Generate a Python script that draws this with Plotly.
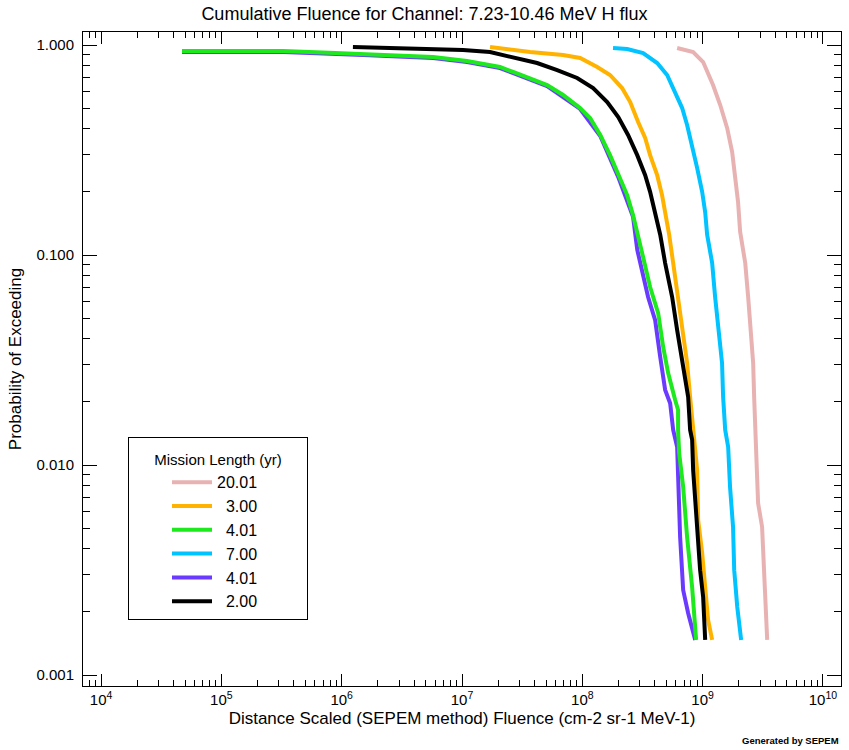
import plotly.graph_objects as go

# ---- data ----
pink_x = [6.14e8, 8.34e8, 1.01e9, 1.22e9, 1.40e9, 1.60e9, 1.76e9, 1.86e9, 1.97e9, 2.05e9,
          2.26e9, 2.39e9, 2.53e9, 2.63e9, 2.68e9, 2.73e9, 2.84e9, 2.89e9, 3.12e9, 3.18e9,
          3.25e9, 3.37e9, 3.44e9]
pink_y = [0.968, 0.926, 0.830, 0.645, 0.518, 0.402, 0.309, 0.240, 0.179, 0.129,
          0.0916, 0.0631, 0.0439, 0.0306, 0.0211, 0.0147, 0.00947, 0.00659, 0.00507, 0.00381,
          0.00262, 0.00183, 0.00147]

orange_x = [1.71e7, 3.68e7, 6.92e7, 9.59e7, 1.33e8, 1.70e8, 2.14e8, 2.50e8, 2.91e8, 3.33e8,
            3.66e8, 4.19e8, 4.60e8, 4.97e8, 5.27e8, 5.69e8, 6.25e8, 6.89e8, 7.43e8, 7.87e8,
            8.34e8, 9.00e8, 9.18e8, 9.91e8, 1.05e9, 1.11e9, 1.20e9]
orange_y = [0.978, 0.926, 0.896, 0.867, 0.786, 0.720, 0.624, 0.535, 0.430, 0.361,
            0.299, 0.240, 0.193, 0.155, 0.125, 0.0916, 0.0631, 0.0439, 0.0306, 0.0211,
            0.0152, 0.00947, 0.00547, 0.00381, 0.00262, 0.00183, 0.00147]

green_x = [4.71e4, 3.26e5, 8.81e5, 1.51e6, 3.24e6, 5.75e6, 1.10e7, 2.07e7, 2.66e7, 5.10e7,
           6.92e7, 9.59e7, 1.16e8, 1.41e8, 1.70e8, 1.99e8, 2.36e8, 2.64e8, 2.91e8, 3.20e8,
           3.66e8, 4.27e8, 4.70e8, 5.17e8, 5.91e8, 6.25e8, 6.25e8, 6.38e8, 6.89e8, 7.43e8,
           8.18e8, 8.83e8]
green_y = [0.936, 0.936, 0.916, 0.906, 0.896, 0.877, 0.839, 0.786, 0.744, 0.645,
           0.578, 0.501, 0.449, 0.373, 0.299, 0.240, 0.193, 0.155, 0.125, 0.0978,
           0.0704, 0.0529, 0.0365, 0.0274, 0.0204, 0.0183, 0.0147, 0.0114, 0.00786, 0.00454,
           0.00262, 0.00147]

cyan_x = [1.80e8, 2.36e8, 3.20e8, 4.19e8, 5.07e8, 5.91e8, 6.76e8, 7.43e8, 8.18e8, 9.00e8,
          9.91e8, 1.05e9, 1.09e9, 1.20e9, 1.27e9, 1.35e9, 1.45e9, 1.48e9, 1.54e9, 1.63e9,
          1.69e9, 1.79e9, 1.83e9, 1.94e9, 2.09e9]
cyan_y = [0.968, 0.957, 0.916, 0.821, 0.720, 0.597, 0.501, 0.416, 0.334, 0.260,
          0.200, 0.160, 0.125, 0.0916, 0.0631, 0.0439, 0.0306, 0.0211, 0.0147, 0.0122,
          0.00786, 0.00507, 0.00316, 0.00211, 0.00147]

purple_x = [4.71e4, 3.26e5, 1.51e6, 5.75e6, 1.10e7, 2.07e7, 5.10e7, 9.59e7, 1.41e8, 1.99e8,
            2.64e8, 2.86e8, 3.52e8, 4.03e8, 4.44e8, 4.88e8, 5.37e8, 5.69e8, 6.14e8, 6.25e8,
            6.50e8, 6.89e8, 7.58e8, 8.67e8]
purple_y = [0.926, 0.926, 0.896, 0.867, 0.830, 0.777, 0.638, 0.496, 0.369, 0.235,
            0.152, 0.106, 0.0631, 0.0490, 0.0327, 0.0228, 0.0197, 0.0147, 0.0122, 0.00786,
            0.00454, 0.00254, 0.00197, 0.00147]

black_x = [1.24e6, 2.89e6, 1.02e7, 1.71e7, 2.66e7, 4.21e7, 6.18e7, 9.06e7, 1.23e8, 1.61e8,
           1.99e8, 2.40e8, 2.86e8, 3.33e8, 3.66e8, 4.03e8, 4.44e8, 4.88e8, 5.58e8, 6.14e8,
           6.76e8, 7.16e8, 7.58e8, 7.87e8, 8.18e8, 8.34e8, 8.67e8, 9.00e8, 9.53e8, 1.01e9,
           1.05e9]
black_y = [0.978, 0.968, 0.947, 0.926, 0.877, 0.821, 0.760, 0.697, 0.624, 0.535,
           0.454, 0.373, 0.299, 0.240, 0.200, 0.160, 0.125, 0.0916, 0.0631, 0.0439,
           0.0306, 0.0254, 0.0211, 0.0147, 0.0132, 0.00947, 0.00659, 0.00454, 0.00316, 0.00235,
           0.00147]

series_names = ["20.01", "3.00", "4.01", "7.00", "4.01", "2.00"]

x_tickvals = [1e4, 1e5, 1e6, 1e7, 1e8, 1e9, 1e10]
x_ticktext = ["10<sup>4</sup>", "10<sup>5</sup>", "10<sup>6</sup>", "10<sup>7</sup>",
              "10<sup>8</sup>", "10<sup>9</sup>", "10<sup>10</sup>"]
y_tickvals = [0.001, 0.01, 0.1, 1.0]
y_ticktext = ["0.001", "0.010", "0.100", "1.000"]

x_minor = [m * 10 ** e for e in range(3, 10) for m in range(2, 10)]
y_minor = [m * 10 ** e for e in range(-3, 0) for m in range(2, 10)]

FONT = "Liberation Sans"
FS = "\u2007"


def pad(name):
    return FS * (5 - len(name)) + name + FS * 5


fig = go.Figure()
traces = [
    (pink_x, pink_y, series_names[0], "#E8B2B2", 1),
    (orange_x, orange_y, series_names[1], "#FFB300", 2),
    (cyan_x, cyan_y, series_names[3], "#00C3FF", 4),
    (purple_x, purple_y, series_names[4], "#6A3BFF", 5),
    (green_x, green_y, series_names[2], "#1EE81E", 3),
    (black_x, black_y, series_names[5], "#000000", 6),
]
for xs, ys, nm, col, rank in traces:
    fig.add_trace(go.Scatter(x=xs, y=ys, mode="lines", name=pad(nm), legendrank=rank,
                             line=dict(color=col, width=4)))

axis_common = dict(showline=True, linecolor="black", linewidth=1, mirror="ticks",
                   ticks="inside", tickcolor="black", showgrid=False, zeroline=False,
                   tickfont=dict(family=FONT, size=15, color="black"))

fig.update_layout(
    width=849, height=750,
    margin=dict(l=83, r=8, t=32, b=64),
    paper_bgcolor="white", plot_bgcolor="white",
    title=dict(text="Cumulative Fluence for Channel: 7.23-10.46 MeV H flux",
               x=0.5, xref="container", xanchor="center",
               y=1 - 14 / 750, yref="container", yanchor="middle",
               font=dict(family=FONT, size=18, color="black")),
    xaxis=dict(type="log", range=[3.85, 10.15], tickvals=x_tickvals, ticktext=x_ticktext,
               ticklen=12,
               minor=dict(tickvals=x_minor, ticks="inside", ticklen=6, tickcolor="black"),
               title=dict(text="Distance Scaled (SEPEM method) Fluence (cm-2 sr-1 MeV-1)",
                          font=dict(family=FONT, size=17, color="black"), standoff=5),
               **axis_common),
    yaxis=dict(type="log", range=[-3.052, 0.062], tickvals=y_tickvals, ticktext=y_ticktext,
               ticklen=14, ticklabelstandoff=5,
               minor=dict(tickvals=y_minor, ticks="inside", ticklen=7, tickcolor="black"),
               title=dict(text="Probability of Exceeding",
                          font=dict(family=FONT, size=17, color="black"), standoff=10),
               **axis_common),
    legend=dict(x=(128 - 83) / 758, y=(686 - 437) / 654, xanchor="left", yanchor="top",
                bgcolor="white", bordercolor="black", borderwidth=1,
                font=dict(family=FONT, size=16, color="black"),
                title=dict(text='<span style="font-size:15px">Mission Length (yr)</span>',
                           side="top center",
                           font=dict(family=FONT, size=21, color="black")),
                indentation=38, itemwidth=40),
    annotations=[dict(text="<b>Generated by SEPEM</b>", xref="paper", yref="paper",
                      x=1.0, y=(686 - 741) / 654, xanchor="right", yanchor="middle",
                      showarrow=False, font=dict(family=FONT, size=9.5, color="black"))],
)

fig.write_html("out.html")
